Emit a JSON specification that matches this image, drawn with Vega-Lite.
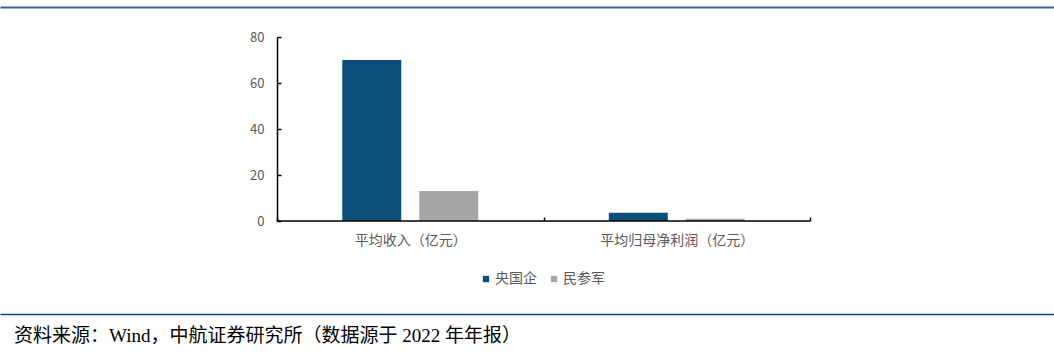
{
  "$schema": "https://vega.github.io/schema/vega-lite/v6.json",
  "width": 1054,
  "height": 184,
  "autosize": {"type": "none"},
  "padding": {"top": 37, "left": 0, "right": 0, "bottom": 131},
  "config": {
    "view": {"stroke": null},
    "font": "Noto Sans CJK SC",
    "axis": {"grid": false}
  },
  "title": {
    "text": "资料来源：Wind，中航证券研究所（数据源于 2022 年年报）",
    "orient": "bottom",
    "anchor": "start",
    "frame": "bounds",
    "offset": 13,
    "dx": 14,
    "fontSize": 19,
    "font": "Liberation Serif, Noto Sans CJK SC",
    "fontWeight": "normal",
    "color": "#000000"
  },
  "resolve": {"scale": {"x": "independent"}, "axis": {"x": "independent"}},
  "layer": [
    {
      "layer": [
        {
          "data": {
            "values": [
              {"指标": "平均收入（亿元）", "类型": "央国企", "值": 70.0},
              {"指标": "平均收入（亿元）", "类型": "民参军", "值": 13.0},
              {"指标": "平均归母净利润（亿元）", "类型": "央国企", "值": 3.6},
              {"指标": "平均归母净利润（亿元）", "类型": "民参军", "值": 1.0}
            ]
          },
          "mark": {"type": "bar"},
          "encoding": {
            "x": {
              "field": "指标",
              "type": "nominal",
              "sort": null,
              "scale": {
                "domain": ["平均收入（亿元）", "平均归母净利润（亿元）"],
                "paddingInner": 0,
                "paddingOuter": 0.9775,
                "align": 0.5317
              },
              "axis": {
                "title": null,
                "orient": "bottom",
                "labelAngle": 0,
                "labelFontSize": 14,
                "labelColor": "#595959",
                "labelPadding": 16,
                "domain": false,
                "tickColor": "#000000",
                "tickWidth": 1.5,
                "tickSize": -4,
                "tickBand": "extent"
              }
            },
            "xOffset": {
              "field": "类型",
              "type": "nominal",
              "sort": ["央国企", "民参军"],
              "scale": {"paddingInner": 0.234, "paddingOuter": 0.848}
            },
            "y": {
              "field": "值",
              "type": "quantitative",
              "scale": {"domain": [0, 80], "nice": false},
              "axis": {
                "title": null,
                "orient": "left",
                "offset": -277,
                "values": [0, 20, 40, 60, 80],
                "labelColor": "#595959",
                "labelFontSize": 13,
                "labelPadding": 17,
                "domainColor": "#000000",
                "domainWidth": 1.5,
                "tickColor": "#000000",
                "tickWidth": 1.5,
                "tickSize": -4
              }
            },
            "color": {
              "field": "类型",
              "type": "nominal",
              "sort": ["央国企", "民参军"],
              "scale": {"range": ["#0c4f79", "#a6a6a6"]},
              "legend": {
                "title": null,
                "orient": "none",
                "legendX": 479,
                "legendY": 235,
                "direction": "horizontal",
                "symbolType": "square",
                "symbolSize": 40,
                "symbolStrokeWidth": 0,
                "labelFontSize": 14,
                "labelColor": "#595959",
                "labelOffset": 2,
                "columnPadding": 10
              }
            }
          }
        },
        {
          "data": {
            "values": [
              {"start": "平均收入（亿元）", "end": "平均归母净利润（亿元）"}
            ]
          },
          "mark": {"type": "rule", "color": "#000000", "strokeWidth": 1.5},
          "encoding": {
            "x": {"field": "start", "type": "nominal", "bandPosition": 0},
            "x2": {"field": "end", "bandPosition": 1},
            "y": {"datum": 0}
          }
        }
      ]
    },
    {
      "data": {"values": []},
      "mark": {"type": "rule"},
      "encoding": {
        "x": {
          "field": "v",
          "type": "quantitative",
          "scale": {"domain": [0, 1]},
          "axis": {
            "orient": "top",
            "offset": 30,
            "title": null,
            "labels": false,
            "ticks": false,
            "domainColor": "#3d5fa3",
            "domainWidth": 2
          }
        }
      }
    },
    {
      "data": {"values": []},
      "mark": {"type": "rule"},
      "encoding": {
        "x": {
          "field": "w",
          "type": "quantitative",
          "scale": {"domain": [0, 1]},
          "axis": {
            "orient": "bottom",
            "offset": 93,
            "title": null,
            "labels": false,
            "ticks": false,
            "domainColor": "#1f3c88",
            "domainWidth": 1.5
          }
        }
      }
    }
  ]
}
